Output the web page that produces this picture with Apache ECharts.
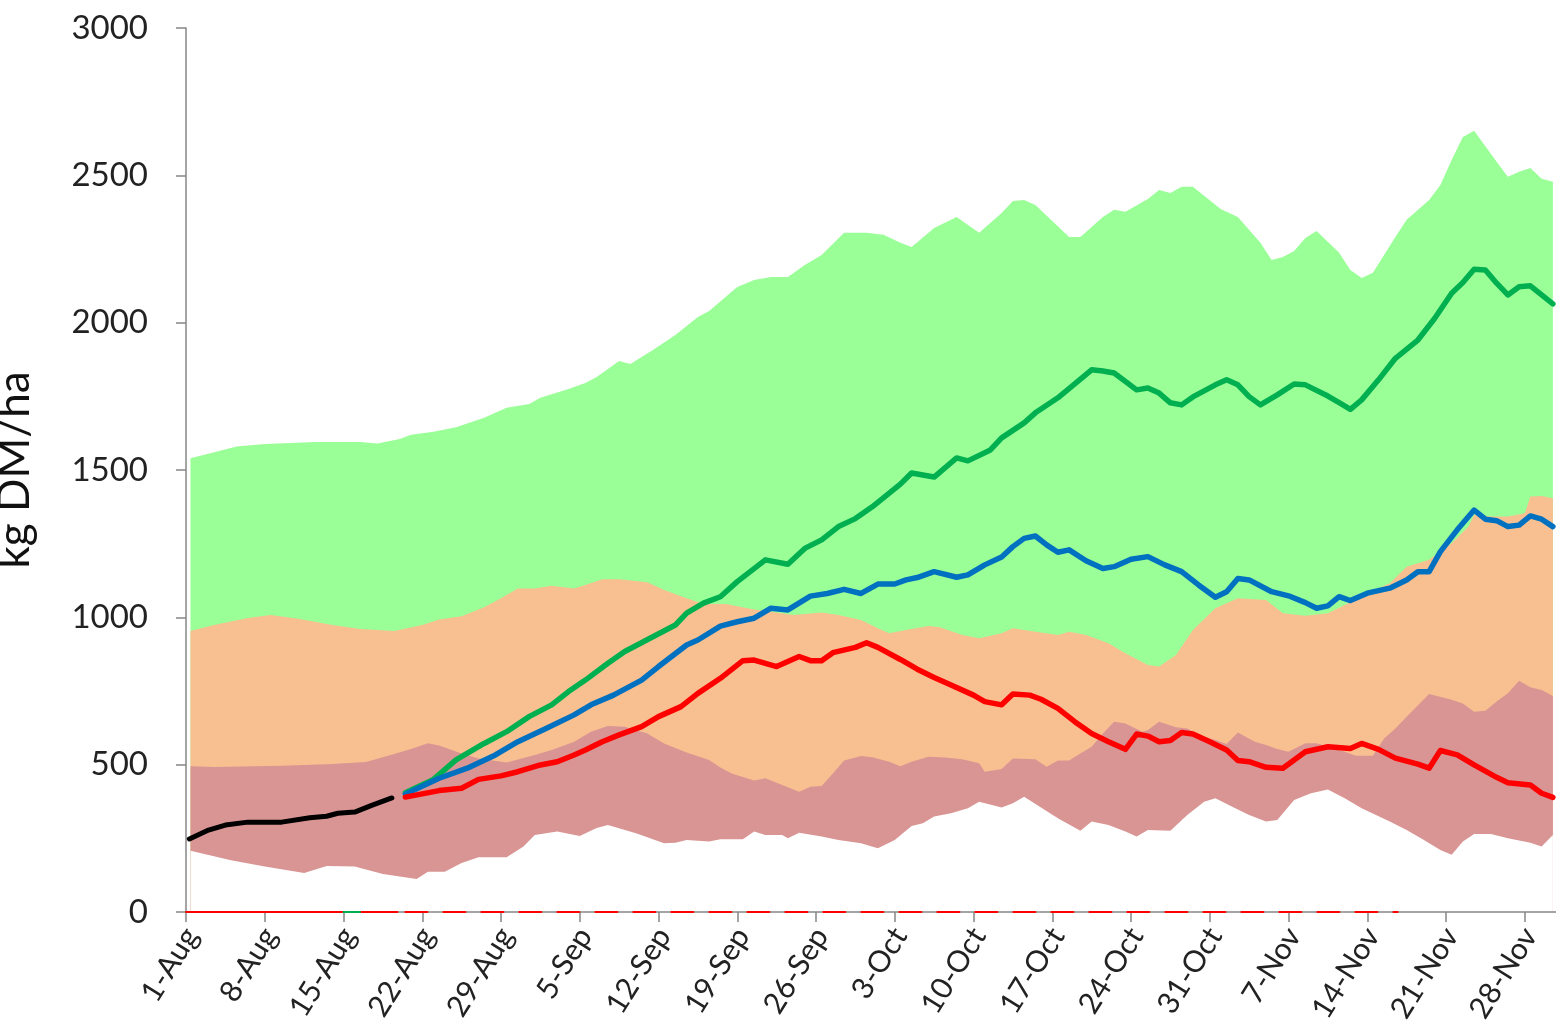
<!DOCTYPE html>
<html>
<head>
<meta charset="utf-8">
<title>kg DM/ha</title>
<script src="https://cdn.jsdelivr.net/npm/echarts@6/dist/echarts.min.js"></script>
<style>
  html, body { margin: 0; padding: 0; background: #fff; }
  #chart { width: 1556px; height: 1034px; }
</style>
</head>
<body>
<div id="chart"></div>
<script>
// x = days since 1-Aug, y = kg DM/ha
const tickLabels = ['1-Aug', '8-Aug', '15-Aug', '22-Aug', '29-Aug', '5-Sep', '12-Sep', '19-Sep', '26-Sep',
  '3-Oct', '10-Oct', '17-Oct', '24-Oct', '31-Oct', '7-Nov', '14-Nov', '21-Nov', '28-Nov']

// upper edge of the green band
const greenTop = [[0.4,1540],[2.5,1560],[4.5,1580],[7,1588],[11.5,1595],[15.5,1595],[17,1590],[19,1605],[20,1620],
  [22,1630],[24,1645],[26.5,1677],[28.5,1711],[30.5,1724],[31.5,1745],[34,1775],[35.5,1795],[36.5,1816],[38.5,1870],
  [39.5,1860],[41.5,1907],[43.5,1958],[45.5,2019],[46.5,2040],[49,2121],[50.5,2145],[52,2155],[53.5,2155],[55,2196],
  [56.5,2230],[58.5,2305],[60.5,2305],[62,2298],[63.5,2271],[64.5,2257],[66.5,2321],[68.5,2359],[70.5,2305],[72.5,2372],
  [73.5,2413],[74.5,2416],[75.5,2399],[78.5,2291],[79.5,2291],[81.5,2359],[82.5,2383],[83.5,2376],[85.5,2420],[86.5,2450],
  [87.5,2440],[88.5,2461],[89.5,2461],[92,2385],[93.5,2359],[95.5,2271],[96.5,2213],[97.5,2223],[98.5,2243],[99.5,2287],
  [100.5,2311],[102.5,2237],[103.5,2179],[104.5,2152],[105.5,2169],[107.5,2291],[108.5,2349],[110.5,2416],[111.5,2467],
  [112.5,2552],[113.5,2630],[114.5,2651],[116.5,2546],[117.5,2495],[118.5,2512],[119.5,2525],[120.5,2488],[121.5,2478]]

// upper edge of the orange band
const orangeTop = [[0.4,954],[2.5,974],[5.5,998],[7.5,1008],[10,995],[13,974],[15.5,960],[18.5,954],[21,974],[22.5,993],
  [24.5,1004],[26.5,1034],[28,1065],[29.5,1098],[31,1098],[32.5,1107],[34.5,1098],[35.5,1110],[37,1129],[38.5,1129],
  [41,1119],[42.5,1093],[44.5,1065],[46,1045],[48,1045],[50.5,1027],[52,1019],[54,1008],[56.5,1016],[58,1008],[60,991],
  [61.5,963],[62.5,946],[64,957],[66,971],[67,966],[69,940],[70.5,929],[72.5,946],[73.5,963],[75.5,951],[77.5,940],
  [78.5,951],[80,940],[82,912],[83.5,878],[85.5,838],[86.5,833],[88,872],[89.5,957],[91.5,1031],[93.5,1065],[96,1059],
  [97.5,1014],[99.5,1005],[101.5,1014],[103,1042],[105,1082],[107,1116],[108.5,1172],[110.5,1195],[112.5,1251],
  [114,1308],[114.5,1347],[116,1342],[117.5,1342],[119,1353],[119.5,1410],[120.5,1412],[121.5,1404]]

// upper edge of the brown band
const brownTop = [[0.4,495],[2.5,492],[8.5,496],[13,502],[16,509],[18.5,536],[20,553],[21.5,573],[22.5,565],[24.5,538],
  [26,521],[28.5,507],[31,533],[32.5,550],[34.5,578],[36,612],[37.5,631],[39,629],[41,606],[42.5,572],[44.5,541],
  [46.5,516],[47.5,490],[48.5,470],[50.5,446],[51.5,454],[53,431],[54.5,408],[55.5,425],[56.5,428],[57.5,470],[58.5,514],
  [60,529],[61,525],[62.5,510],[63.5,495],[64.5,510],[66,527],[67.5,524],[69,518],[70.5,505],[71,476],[72.5,485],
  [73.5,521],[75.5,518],[76.5,493],[77.5,514],[78.5,514],[79.5,538],[80.5,561],[81.5,606],[82.5,646],[83.5,640],[85,612],
  [85.5,618],[86.5,646],[88,627],[89,623],[90,601],[91.5,584],[92.5,570],[93.5,609],[95,578],[96,567],[97,553],[98,544],
  [99.5,573],[100.5,573],[103,544],[104,530],[105.5,530],[106.5,589],[107.5,623],[108.5,663],[110,720],[110.5,740],
  [112.5,720],[113.5,708],[114.5,680],[115.5,683],[116.5,714],[117.5,742],[118.5,785],[119.5,763],[120.5,753],[121.5,733]]

// lower edge of the brown band
const brownBottom = [[0.4,208],[4,176],[7,154],[10.5,132],[12.5,156],[15,154],[17.5,129],[20.5,112],[21.5,137],[23,137],
  [24.5,166],[26,186],[28.5,186],[30,222],[31,261],[33,273],[35,258],[36.5,285],[37.5,295],[40,267],[42.5,233],[43.5,235],
  [44.5,244],[46.5,239],[47.5,247],[49.5,247],[50.5,273],[51.5,261],[53,261],[53.5,250],[54.5,269],[56.5,256],[58,244],
  [60,233],[61.5,216],[63,244],[64.5,292],[65.5,301],[66.5,324],[68,335],[69.5,352],[70.5,374],[72.5,355],[73.5,369],
  [74.5,391],[76,355],[77.5,318],[79.5,276],[80.5,307],[82,295],[83.5,273],[84.5,256],[85.5,278],[87.5,276],[89,329],
  [90.5,374],[91.5,386],[93,357],[94.5,329],[96,307],[97,312],[98.5,380],[100,403],[101.5,416],[103,386],[104.5,352],
  [107,307],[108.5,278],[110,245],[111.5,210],[112.5,194],[113.5,239],[114.5,265],[116,265],[117.5,250],[119.5,235],
  [120.5,222],[121.5,261]]

const blackLine = [[0.3,248],[2,278],[3.5,295],[5.5,305],[8.5,305],[11,320],[12.5,325],[13.5,335],[15,339],[16.5,362],[18.3,387]]

const greenLine = [[19.5,405],[22,450],[24,516],[26.5,572],[28.5,612],[30.5,663],[32.5,703],[34,748],[35.5,787],[37.5,844],
  [39,884],[41.5,934],[43.5,974],[44.5,1014],[46,1048],[47.5,1070],[49,1121],[51.5,1195],[53.5,1180],[55,1234],[56.5,1263],
  [58,1308],[59.5,1335],[61,1375],[63.5,1452],[64.5,1490],[66.5,1476],[68.5,1541],[69.5,1531],[71.5,1568],[72.5,1609],
  [74.5,1660],[75.5,1694],[77.5,1745],[80.5,1840],[81.5,1836],[82.5,1829],[84.5,1772],[85.5,1778],[86.5,1761],[87.5,1728],
  [88.5,1721],[89.5,1748],[91.5,1789],[92.5,1806],[93.5,1789],[94.5,1749],[95.5,1721],[97,1755],[98.5,1792],[99.5,1789],
  [101.5,1751],[102.5,1729],[103.5,1706],[104.5,1738],[106,1806],[107.5,1879],[109.5,1941],[111,2015],[112.5,2100],
  [113.5,2136],[114.5,2181],[115.5,2179],[116.5,2134],[117.5,2094],[118.5,2122],[119.5,2125],[120.5,2094],[121.5,2064]]

const blueLine = [[19.5,400],[22.5,454],[25,488],[27.5,533],[29.5,578],[32,623],[34.5,669],[36,703],[38,736],[40.5,787],
  [42,833],[44.5,906],[45.5,923],[47.5,970],[49,985],[50.5,997],[52,1031],[53.5,1025],[55.5,1072],[57,1081],[58.5,1095],
  [60,1081],[61.5,1113],[63,1113],[64,1127],[65,1135],[66.5,1155],[68.5,1136],[69.5,1144],[71,1178],[72.5,1205],[73.5,1240],
  [74.5,1268],[75.5,1276],[76.5,1246],[77.5,1221],[78.5,1229],[80,1192],[81.5,1166],[82.5,1172],[84,1197],[85.5,1206],
  [87,1178],[88.5,1155],[90,1110],[91.5,1068],[92.5,1087],[93.5,1132],[94.5,1127],[96.5,1087],[98,1073],[99.5,1050],
  [100.5,1031],[101.5,1039],[102.5,1070],[103.5,1057],[105,1082],[107,1099],[108.5,1127],[109.5,1155],[110.5,1155],
  [111.5,1223],[113,1297],[114.5,1364],[115.5,1333],[116.5,1328],[117.5,1308],[118.5,1313],[119.5,1344],[120.5,1333],[121.5,1308]]

const redLine = [[19.5,390],[22.5,412],[24.5,420],[26,450],[28,462],[29.5,476],[31.5,499],[33,510],[34.5,533],[35.5,550],
  [37,578],[38.5,601],[40.5,629],[42,663],[44,697],[45.5,742],[47.5,793],[49.5,853],[50.5,855],[52.5,833],[54.5,867],
  [55.5,853],[56.5,853],[57.5,880],[59.5,898],[60.5,914],[61.5,898],[63.5,857],[65,824],[66.5,796],[68,770],[70,736],
  [71,714],[72.5,703],[73.5,740],[75,736],[76,722],[77.5,691],[79,646],[80.5,606],[82,578],[83.5,552],[84.5,604],[85.5,597],
  [86.5,578],[87.5,582],[88.5,609],[89.5,604],[91,578],[92.5,550],[93.5,514],[94.5,510],[96,491],[97.5,488],[99.5,544],
  [101.5,561],[103.5,555],[104.5,572],[106,552],[107.5,522],[109.5,502],[110.5,488],[111.5,548],[113,533],[114.5,499],
  [116.5,457],[117.5,439],[119.5,431],[120.5,403],[121.5,389]]

// flat zero lines along the x axis
const zeroSolid = [[0,0],[14,0]]
const zeroGreen = [[14,0],[15.6,0]]
const zeroSolid2 = [[15.6,0],[18.8,0]]
const zeroDashed = [[19.5,0],[107.7,0]]

const chart = echarts.init(document.getElementById('chart'))

const band = (data, color, z) => ({
  type: 'line', data, z, symbol: 'none', silent: true,
  lineStyle: { width: 0 },
  areaStyle: { color, opacity: 1 }
})
const line = (data, color, width, z, type) => ({
  type: 'line', data, z, symbol: 'none', silent: true,
  lineStyle: { color, width, type: type || 'solid', cap: 'round', join: 'round' }
})

const option = {
  animation: false,
  grid: { left: 186, right: -47.5, top: 28, bottom: 122, containLabel: false, outerBoundsMode: 'none' },
  xAxis: {
    type: 'value',
    min: 0,
    max: 126,
    interval: 7,
    z: 3,
    splitLine: { show: false },
    axisLine: { lineStyle: { color: '#878787', width: 1.5 } },
    axisTick: { length: 10, lineStyle: { color: '#878787', width: 1.5 } },
    axisLabel: {
      rotate: 58,
      margin: 27,
      padding: [32, -10, 0, 0],
      fontFamily: 'Lato',
      fontSize: 30,
      color: '#222',
      formatter: (v) => tickLabels[Math.round(v / 7)] || ''
    }
  },
  yAxis: {
    type: 'value',
    min: 0,
    max: 3000,
    interval: 500,
    name: 'kg DM/ha',
    nameLocation: 'middle',
    nameRotate: 90,
    nameGap: 149,
    nameTextStyle: { fontFamily: 'Lato', fontSize: 44, color: '#111' },
    splitLine: { show: false },
    axisLine: { show: true, lineStyle: { color: '#878787', width: 1.5 } },
    axisTick: { show: true, length: 10, lineStyle: { color: '#878787', width: 1.5 } },
    axisLabel: { margin: 38, fontFamily: 'Lato', fontSize: 33, color: '#222', formatter: (v) => String(v) }
  },
  series: [
    band(greenTop, '#9bff98', 1),
    band(orangeTop, '#f8c090', 1.1),
    band(brownTop, '#d99594', 1.2),
    band(brownBottom, '#ffffff', 1.3),
    line(zeroSolid, '#ff0000', 2, 4),
    line(zeroGreen, '#00b050', 2, 4),
    line(zeroSolid2, '#ff0000', 2, 4),
    line(zeroDashed, '#ff0000', 2, 4, [22, 16]),
    line(blackLine, '#000000', 5, 5),
    line(greenLine, '#00b050', 5.5, 5),
    line(blueLine, '#0070c0', 5.5, 5),
    line(redLine, '#ff0000', 5.5, 5)
  ]
}

chart.setOption(option)
window.addEventListener('resize', () => chart.resize())
</script>
</body>
</html>
